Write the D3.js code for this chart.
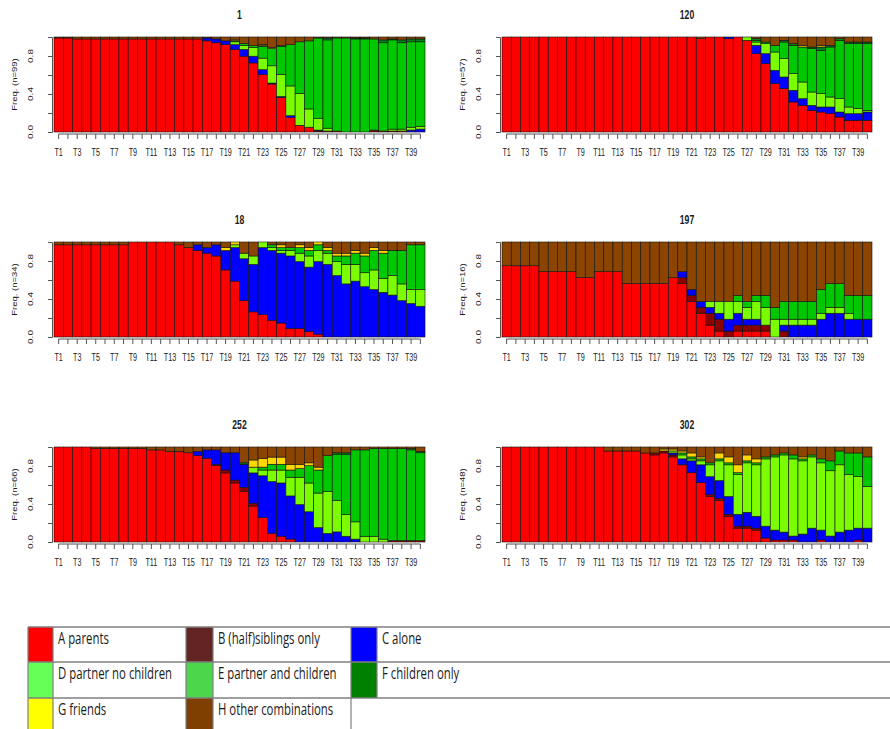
<!DOCTYPE html>
<html>
<head>
<meta charset="utf-8">
<script src="https://cdn.jsdelivr.net/npm/d3@7"></script>
<style>
body { margin: 0; background: #fff; }
text { fill: #1a1a1a; }
</style>
</head>
<body>
<div id="viz"></div>
<script>
// states, bottom to top
var stateKeys = ["A", "B", "C", "D", "E", "F", "G", "H"];
var stateLabels = ["A parents", "B (half)siblings only", "C alone",
	"D partner no children", "E partner and children", "F children only",
	"G friends", "H other combinations"];
var barColors = ["#ff0000", "#8b0000", "#0000ff", "#7cfc00", "#00c800", "#00801a", "#ffd700", "#8b4500"];
var legendColors = ["#ff0000", "#632523", "#0000ff", "#66ff55", "#4cd64c", "#008000", "#ffff00", "#7f3f00"];

var timeLabels = ["T1","T2","T3","T4","T5","T6","T7","T8","T9","T10",
	"T11","T12","T13","T14","T15","T16","T17","T18","T19","T20",
	"T21","T22","T23","T24","T25","T26","T27","T28","T29","T30",
	"T31","T32","T33","T34","T35","T36","T37","T38","T39","T40"];

var groupNames = ["1", "120", "18", "197", "252", "302"];
var groupN = [99, 57, 34, 16, 66, 48];

// counts per time point: [A,B,C,D,E,F,G,H]
var g1 = [
	[98,0,0,0,0,0,0,1],[98,0,0,0,0,0,0,1],[97,0,0,0,0,0,0,2],[97,0,0,0,0,0,0,2],
	[97,0,0,0,0,0,0,2],[97,0,0,0,0,0,0,2],[97,0,0,0,0,0,0,2],[97,0,0,0,0,0,0,2],
	[97,0,0,0,0,0,0,2],[97,0,0,0,0,0,0,2],[97,0,0,0,0,0,0,2],[97,0,0,0,0,0,0,2],
	[97,0,0,0,0,0,0,2],[97,0,0,0,0,0,0,2],[97,0,0,0,0,0,0,2],[97,0,0,0,0,0,0,2],
	[95,0,3,0,0,0,0,1],[93,0,4,0,0,0,0,2],[91,0,4,0,0,0,0,4],[86,0,5,3,1,0,1,3],
	[79,0,7,4,2,0,0,7],[72,0,7,9,2,0,0,9],[60,0,5,12,12,1,1,8],[50,0,1,18,18,0,1,11],
	[36,0,1,23,29,1,0,9],[15,0,2,31,43,0,0,8],[7,0,0,33,54,0,0,5],[5,0,0,19,71,0,0,4],
	[1,0,1,12,84,0,0,1],[1,0,0,3,92,2,0,1],[1,0,0,0,97,0,0,1],[0,0,0,0,98,0,0,1],
	[0,0,0,0,97,1,0,1],[0,0,0,0,97,1,0,1],[0,2,0,0,95,0,0,2],[1,0,0,0,92,3,0,3],
	[1,0,0,2,93,1,0,2],[1,0,0,2,90,3,0,3],[0,0,2,3,89,3,0,2],[0,0,3,3,88,3,0,2]
];
var g120 = [
	[57,0,0,0,0,0,0,0],[57,0,0,0,0,0,0,0],[57,0,0,0,0,0,0,0],[57,0,0,0,0,0,0,0],
	[57,0,0,0,0,0,0,0],[57,0,0,0,0,0,0,0],[57,0,0,0,0,0,0,0],[57,0,0,0,0,0,0,0],
	[57,0,0,0,0,0,0,0],[57,0,0,0,0,0,0,0],[57,0,0,0,0,0,0,0],[57,0,0,0,0,0,0,0],
	[57,0,0,0,0,0,0,0],[57,0,0,0,0,0,0,0],[57,0,0,0,0,0,0,0],[57,0,0,0,0,0,0,0],
	[57,0,0,0,0,0,0,0],[57,0,0,0,0,0,0,0],[57,0,0,0,0,0,0,0],[57,0,0,0,0,0,0,0],
	[57,0,0,0,0,0,0,0],[56,0,0,0,0,0,0,1],[57,0,0,0,0,0,0,0],[57,0,0,0,0,0,0,0],
	[56,0,1,0,0,0,0,0],[57,0,0,0,0,0,0,0],[55,0,0,2,0,0,0,0],[47,0,5,2,1,1,0,1],
	[41,0,6,6,1,0,0,3],[29,0,8,11,4,0,0,5],[26,0,7,11,10,1,0,2],[18,0,7,10,17,1,0,4],
	[16,0,4,10,21,0,1,5],[13,0,3,8,26,1,0,6],[12,0,3,8,26,2,1,5],[11,0,4,6,30,1,0,5],
	[9,0,3,8,35,1,0,1],[7,0,4,4,38,1,0,3],[7,0,4,3,39,1,0,3],[7,0,5,1,40,1,0,3]
];
var g18 = [
	[33,0,0,0,0,0,0,1],[33,0,0,0,0,0,0,1],[33,0,0,0,0,0,0,1],[33,0,0,0,0,0,0,1],
	[33,0,0,0,0,0,0,1],[33,0,0,0,0,0,0,1],[33,0,0,0,0,0,0,1],[33,0,0,0,0,0,0,1],
	[34,0,0,0,0,0,0,0],[34,0,0,0,0,0,0,0],[34,0,0,0,0,0,0,0],[34,0,0,0,0,0,0,0],
	[34,0,0,0,0,0,0,0],[33,0,0,0,0,0,0,1],[32,0,0,0,0,0,0,2],[31,0,2,0,0,0,0,1],
	[30,0,2,0,0,0,0,2],[29,0,4,0,0,0,0,1],[24,0,7,0,0,0,1,2],[20,0,12,1,0,0,1,0],
	[13,0,15,2,0,0,0,4],[9,0,17,3,0,0,0,5],[8,0,24,2,0,0,0,0],[6,0,25,1,1,0,0,1],
	[5,0,25,1,1,0,1,1],[3,0,26,2,1,0,0,2],[3,0,24,3,2,0,1,1],[2,0,23,4,2,0,1,2],
	[1,0,26,4,2,0,1,0],[0,0,26,4,1,0,1,2],[0,0,22,5,2,0,1,4],[0,0,19,7,3,0,1,4],
	[0,0,20,6,4,0,1,3],[0,0,18,5,6,0,1,4],[0,0,17,7,7,0,1,2],[0,0,16,5,9,0,1,3],
	[0,0,15,7,9,0,0,3],[0,0,13,6,12,0,0,3],[0,0,12,5,16,0,0,1],[0,0,11,6,16,0,0,1]
];
var g197 = [
	[12,0,0,0,0,0,0,4],[12,0,0,0,0,0,0,4],[12,0,0,0,0,0,0,4],[12,0,0,0,0,0,0,4],
	[11,0,0,0,0,0,0,5],[11,0,0,0,0,0,0,5],[11,0,0,0,0,0,0,5],[11,0,0,0,0,0,0,5],
	[10,0,0,0,0,0,0,6],[10,0,0,0,0,0,0,6],[11,0,0,0,0,0,0,5],[11,0,0,0,0,0,0,5],
	[11,0,0,0,0,0,0,5],[9,0,0,0,0,0,0,7],[9,0,0,0,0,0,0,7],[9,0,0,0,0,0,0,7],
	[9,0,0,0,0,0,0,7],[9,0,0,0,0,0,0,7],[10,0,0,0,0,0,0,6],[9,1,1,0,0,0,0,5],
	[6,1,1,0,0,0,0,8],[4,1,1,0,0,0,0,10],[2,2,1,1,0,0,0,10],[1,2,1,2,0,0,0,10],
	[0,1,2,3,0,0,0,10],[1,1,2,2,1,0,0,9],[1,1,1,2,1,0,0,10],[1,1,1,3,1,0,0,9],
	[1,1,0,3,2,0,0,9],[0,0,0,3,2,0,0,11],[0,1,1,1,3,0,0,10],[0,0,2,1,3,0,0,10],
	[0,0,2,1,3,0,0,10],[0,0,2,1,3,0,0,10],[0,0,3,1,4,0,0,8],[0,0,4,1,4,0,0,7],
	[0,0,4,1,4,0,0,7],[0,0,3,1,3,0,0,9],[0,0,3,0,4,0,0,9],[0,0,3,0,4,0,0,9]
];
var g252 = [
	[66,0,0,0,0,0,0,0],[66,0,0,0,0,0,0,0],[66,0,0,0,0,0,0,0],[66,0,0,0,0,0,0,0],
	[65,0,0,0,0,0,0,1],[65,0,0,0,0,0,0,1],[65,0,0,0,0,0,0,1],[65,0,0,0,0,0,0,1],
	[65,0,0,0,0,0,0,1],[65,0,0,0,0,0,0,1],[64,0,0,0,0,0,0,2],[64,0,0,0,0,0,0,2],
	[63,0,0,0,0,0,0,3],[63,0,0,0,0,0,0,3],[62,0,0,0,0,0,0,4],[60,0,3,0,0,0,0,3],
	[58,0,6,0,0,0,0,2],[53,1,10,0,0,0,0,2],[48,2,12,0,0,0,0,4],[41,2,19,0,0,0,0,4],
	[35,3,16,0,0,1,0,11],[25,2,21,4,0,0,5,9],[17,0,29,4,2,0,6,8],[6,0,36,8,4,0,5,7],
	[4,0,37,9,4,0,5,7],[2,0,30,13,5,0,4,12],[0,0,26,19,6,0,3,12],[0,0,21,20,12,0,2,11],
	[0,0,10,24,16,0,2,14],[0,0,6,29,25,0,0,6],[0,0,7,22,32,1,0,4],[0,0,4,15,42,1,0,4],
	[0,0,2,12,50,0,0,2],[0,0,0,4,60,0,0,2],[0,0,0,4,61,0,0,1],[0,0,0,2,63,0,0,1],
	[0,1,0,0,64,0,0,1],[0,1,0,0,64,0,0,1],[0,1,0,0,63,1,0,1],[0,1,0,0,61,1,0,3]
];
var g302 = [
	[48,0,0,0,0,0,0,0],[48,0,0,0,0,0,0,0],[48,0,0,0,0,0,0,0],[48,0,0,0,0,0,0,0],
	[48,0,0,0,0,0,0,0],[48,0,0,0,0,0,0,0],[48,0,0,0,0,0,0,0],[48,0,0,0,0,0,0,0],
	[48,0,0,0,0,0,0,0],[48,0,0,0,0,0,0,0],[48,0,0,0,0,0,0,0],[46,0,0,0,0,0,0,2],
	[46,0,0,0,0,0,0,2],[46,0,0,0,0,0,0,2],[46,0,0,0,0,0,0,2],[45,0,0,0,0,0,0,3],
	[44,1,0,0,0,0,0,3],[45,1,0,0,0,0,1,1],[43,1,1,1,0,0,1,1],[39,0,3,2,1,0,1,2],
	[35,0,6,1,1,0,2,3],[30,0,9,2,1,0,1,5],[23,1,9,6,1,0,0,8],[21,1,9,10,1,0,3,3],
	[13,1,9,16,1,0,3,5],[7,1,6,20,1,0,4,9],[7,1,7,25,1,0,3,4],[6,1,6,26,1,0,2,6],
	[2,0,6,34,1,0,0,5],[1,0,5,37,1,0,0,4],[1,0,4,39,1,0,0,3],[1,0,2,39,2,0,0,4],
	[0,0,4,37,1,0,1,5],[0,0,7,36,1,0,0,4],[1,0,5,34,2,0,0,6],[0,0,3,33,5,0,0,7],
	[0,0,5,34,7,0,0,2],[0,0,6,28,11,0,0,3],[1,0,6,26,12,0,0,3],[0,0,7,21,15,0,0,5]
];
var groups = [g1, g120, g18, g197, g252, g302];

var width = 890, height = 729;
var svg = d3.select("#viz").append("svg")
	.attr("width", width)
	.attr("height", height)
	.style("font-family", "'Liberation Sans', Arial, sans-serif");

svg.append("rect").attr("width", width).attr("height", height).attr("fill", "#fff");

// panel plot regions
var colX = [[54, 425], [502, 872]];
var rowY = [[37, 132], [242, 337], [447, 542]];
var squeeze = 0.72; // the picture is narrowed horizontally

var stack = d3.stack()
	.keys(d3.range(stateKeys.length))
	.value((d, k) => d[k])
	.offset(d3.stackOffsetExpand);

groups.forEach((rows, gi) => {
	var cx = colX[gi % 2], ry = rowY[Math.floor(gi / 2)];

	var x = d3.scaleBand().domain(timeLabels).range(cx).padding(0);
	var y = d3.scaleLinear().domain([0, 1]).range([ry[1], ry[0]]);

	var g = svg.append("g");
	var series = stack(rows);

	g.selectAll("g.layer")
		.data(series)
		.enter()
		.append("g")
		.attr("class", "layer")
		.attr("fill", s => barColors[s.key])
		.selectAll("rect")
		.data(s => s.map((d, i) => ({ d: d, t: timeLabels[i] })).filter(o => o.d[1] - o.d[0] > 0))
		.enter()
		.append("rect")
		.attr("x", o => x(o.t))
		.attr("width", x.bandwidth())
		.attr("y", o => y(o.d[1]))
		.attr("height", o => y(o.d[0]) - y(o.d[1]))
		.attr("stroke", "#111")
		.attr("stroke-width", 0.6);

	// x axis: every tick, every other label
	var xa = g.append("g")
		.attr("transform", "translate(0," + (ry[1] + 2) + ")")
		.call(d3.axisBottom(x).tickSize(5).tickSizeOuter(0).tickFormat(""));
	xa.select(".domain").remove();
	xa.selectAll(".tick line").attr("stroke", "#555");
	var c0 = x(timeLabels[0]) + x.bandwidth() / 2;
	var c1 = x(timeLabels[39]) + x.bandwidth() / 2;
	xa.append("line").attr("x1", c0).attr("x2", c1).attr("stroke", "#555");

	g.selectAll("text.xlab")
		.data(timeLabels.filter((t, i) => i % 2 === 0))
		.enter()
		.append("text")
		.attr("class", "xlab")
		.attr("text-anchor", "middle")
		.attr("font-size", 10)
		.attr("transform", t => "translate(" + (x(t) + x.bandwidth() / 2) + "," + (ry[1] + 24) + ") scale(" + squeeze + ",1)")
		.text(t => t);

	// y axis
	var ya = g.append("g")
		.attr("transform", "translate(" + (cx[0] - 2) + ",0)")
		.call(d3.axisLeft(y).tickValues([0, 0.2, 0.4, 0.6, 0.8, 1]).tickSize(4).tickFormat(""));
	ya.selectAll("path,line").attr("stroke", "#555");

	g.selectAll("text.ylab")
		.data([0, 0.4, 0.8])
		.enter()
		.append("text")
		.attr("class", "ylab")
		.attr("text-anchor", "middle")
		.attr("font-size", 10)
		.attr("transform", v => "translate(" + (cx[0] - 21) + "," + y(v) + ") scale(" + squeeze + ",1) rotate(-90)")
		.text(v => v.toFixed(1));

	g.append("text")
		.attr("text-anchor", "middle")
		.attr("font-size", 9.5)
		.attr("transform", "translate(" + (cx[0] - 37) + "," + ((ry[0] + ry[1]) / 2) + ") scale(" + squeeze + ",1) rotate(-90)")
		.text("Freq. (n=" + groupN[gi] + ")");

	g.append("text")
		.attr("text-anchor", "middle")
		.attr("font-size", 12)
		.attr("font-weight", "bold")
		.attr("transform", "translate(" + ((cx[0] + cx[1]) / 2) + "," + (ry[0] - 18) + ") scale(" + squeeze + ",1)")
		.text(groupNames[gi]);
});

// legend table
var lgX = [28, 186, 351];
var lgSw = [53, 213, 377];
var lgY = [627, 662, 698];
var lg = svg.append("g").style("font-family", "'Open Sans', sans-serif");

stateKeys.forEach((k, i) => {
	var c = i % 3, r = Math.floor(i / 3);
	var y0 = lgY[r], y1 = r < 2 ? lgY[r + 1] : height;
	lg.append("rect")
		.attr("x", lgX[c]).attr("y", y0)
		.attr("width", lgSw[c] - lgX[c]).attr("height", y1 - y0)
		.attr("fill", legendColors[i]);
	lg.append("text")
		.attr("class", "lgtxt")
		.attr("x", lgSw[c] + 5)
		.attr("y", y0 + 16.5)
		.attr("font-size", 15.5)
		.text(stateLabels[i]);
});

var lineCol = "#7f7f7f";
lgY.forEach(yy => {
	lg.append("line").attr("x1", 28).attr("x2", width).attr("y1", yy).attr("y2", yy)
		.attr("stroke", lineCol).attr("stroke-width", 1.5);
});
[28, 53, 186, 213, 351].forEach(xx => {
	lg.append("line").attr("x1", xx).attr("x2", xx).attr("y1", 627).attr("y2", height)
		.attr("stroke", lineCol).attr("stroke-width", 1.2);
});
lg.append("line").attr("x1", 377).attr("x2", 377).attr("y1", 627).attr("y2", 698)
	.attr("stroke", lineCol).attr("stroke-width", 1.2);

// narrow the legend text the same way the picture is narrowed
var dText = lg.selectAll("text.lgtxt").nodes()[3];
var k = 114 / dText.getComputedTextLength();
lg.selectAll("text.lgtxt").each(function() {
	var w = this.getComputedTextLength();
	d3.select(this).attr("textLength", w * k).attr("lengthAdjust", "spacingAndGlyphs");
});
</script>
</body>
</html>
